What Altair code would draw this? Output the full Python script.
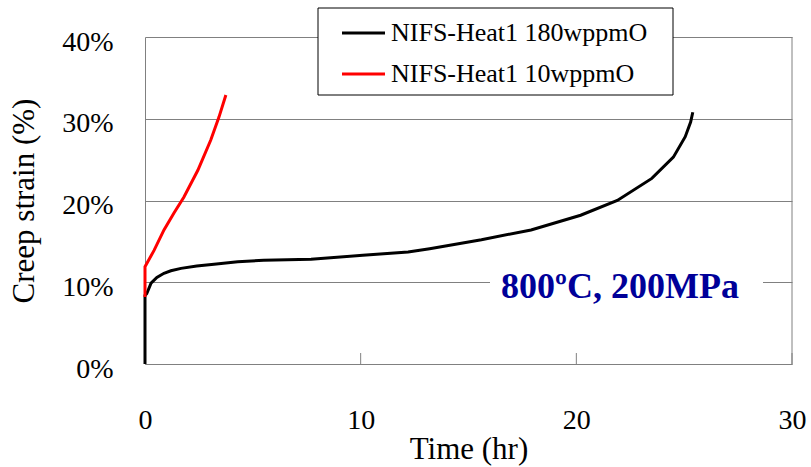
import altair as alt
import pandas as pd

# ---- data ----
series_names = ["NIFS-Heat1 180wppmO", "NIFS-Heat1 10wppmO"]
series_colors = ["#000000", "#ff0000"]

black_time = [0, 0, 0.08, 0.28, 0.55, 0.88, 1.2, 1.67, 2.4, 3.2, 4.3, 5.5, 7.7,
              10.1, 12.2, 13.2, 15.6, 17.9, 20.2, 21.9, 23.5, 24.5, 25.05, 25.3, 25.4]
black_strain = [0, 8.4, 8.6, 9.9, 10.6, 11.1, 11.4, 11.7, 12.0, 12.2, 12.5, 12.7, 12.8,
                13.3, 13.7, 14.1, 15.2, 16.4, 18.2, 20.0, 22.7, 25.3, 27.8, 29.6, 30.8]

red_time = [0, 0, 0.42, 0.88, 1.35, 1.8, 2.45, 3.05, 3.43, 3.75]
red_strain = [8.2, 11.9, 13.9, 16.4, 18.5, 20.4, 23.7, 27.4, 30.2, 32.9]

x_ticks = [0, 10, 20, 30]
y_ticks = [0, 10, 20, 30, 40]
annotation = "800ºC, 200MPa"
x_title = "Time (hr)"
y_title = "Creep strain (%)"

FONT = "Liberation Serif"
GRID = "#808080"
W, H = 647, 327

rows = []
for name, ts, ss in [(series_names[0], black_time, black_strain),
                     (series_names[1], red_time, red_strain)]:
    for i, (t, s) in enumerate(zip(ts, ss)):
        rows.append({"series": name, "time": t, "strain": s, "idx": i})
df = pd.DataFrame(rows)

x_scale = alt.Scale(domain=[0, 30], nice=False)
y_scale = alt.Scale(domain=[0, 40], nice=False)

x_axis = alt.Axis(values=x_ticks, title=x_title, grid=False, ticks=False,
                  domainColor=GRID, labelFont=FONT, labelFontSize=28, labelColor="black",
                  labelPadding=64, labelBaseline="alphabetic", labelFlush=False,
                  titleFont=FONT, titleFontSize=31, titleFontWeight="normal", titleColor="black",
                  titleBaseline="alphabetic", titleY=94, titleX=W / 2)
y_axis = alt.Axis(values=y_ticks, title=y_title, grid=True, gridColor=GRID, ticks=False,
                  domainColor=GRID, labelExpr="datum.value + '%'",
                  labelFont=FONT, labelFontSize=28, labelColor="black",
                  labelPadding=32, labelOffset=5,
                  titleFont=FONT, titleFontSize=31, titleFontWeight="normal", titleColor="black",
                  titleBaseline="alphabetic", titleX=-112, titleY=H / 2)

lines = alt.Chart(df).mark_line(strokeWidth=3, clip=False).encode(
    x=alt.X("time:Q", scale=x_scale, axis=x_axis),
    y=alt.Y("strain:Q", scale=y_scale, axis=y_axis),
    color=alt.Color("series:N", scale=alt.Scale(domain=series_names, range=series_colors), legend=None),
    order=alt.Order("idx:Q"),
)

ticks = alt.Chart(pd.DataFrame({"tick": x_ticks})).mark_rule(color=GRID, strokeWidth=1).encode(
    x=alt.X("tick:Q", scale=x_scale),
    y=alt.value(H - 11), y2=alt.value(H),
)

right_border = alt.Chart(pd.DataFrame({"a": [0]})).mark_rule(color=GRID, strokeWidth=1).encode(
    x=alt.value(W), y=alt.value(0), y2=alt.value(H),
)

# annotation with white background
ann_bg = alt.Chart(pd.DataFrame({"a": [0]})).mark_rect(color="white").encode(
    x=alt.value(345), x2=alt.value(618), y=alt.value(232), y2=alt.value(262),
)
ann = alt.Chart(pd.DataFrame({"label": [annotation]})).mark_text(
    font=FONT, fontSize=36, fontWeight="bold", color="#000099", align="center", baseline="alphabetic"
).encode(text="label:N", x=alt.value(475), y=alt.value(261))

# legend box
leg_box = alt.Chart(pd.DataFrame({"a": [0]})).mark_rect(
    fill="white", stroke="black", strokeWidth=1).encode(
    x=alt.value(173), x2=alt.value(528), y=alt.value(-29), y2=alt.value(58),
)
leg_layers = []
for i, (name, col) in enumerate(zip(series_names, series_colors)):
    yy = -4 + 41 * i
    d = pd.DataFrame({"label": [name]})
    leg_layers.append(alt.Chart(d).mark_rule(color=col, strokeWidth=3).encode(
        x=alt.value(197), x2=alt.value(240), y=alt.value(yy)))
    leg_layers.append(alt.Chart(d).mark_text(
        font=FONT, fontSize=26, color="black", align="left", baseline="alphabetic").encode(
        text="label:N", x=alt.value(246), y=alt.value(yy + 8)))

chart = alt.layer(ticks, right_border, lines, ann_bg, ann, leg_box, *leg_layers).properties(
    width=W, height=H,
    autosize=alt.AutoSizeParams(type="none"),
    padding={"left": 145, "top": 37, "right": 19, "bottom": 103},
    background="white",
).configure_view(stroke=None)

chart.save("out.html", embed_options={"renderer": "svg", "actions": False})
